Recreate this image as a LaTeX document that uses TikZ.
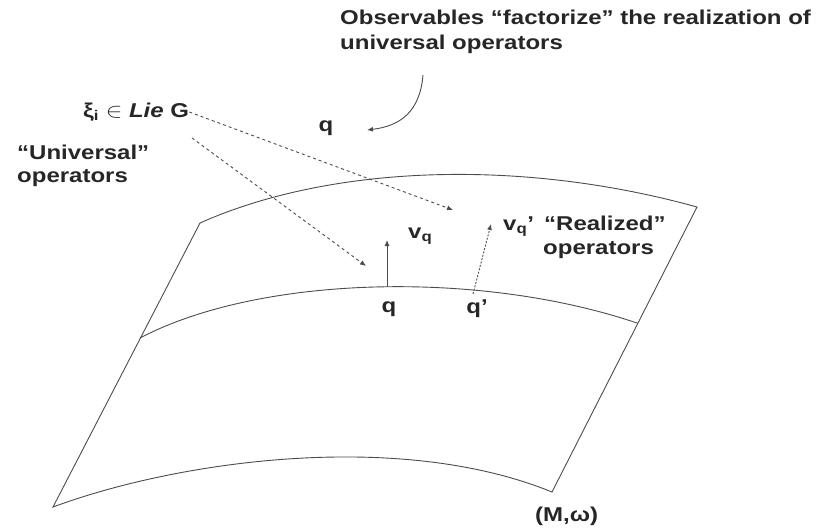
\documentclass[tikz,border=0pt]{standalone}
\usepackage{fontspec}
\usepackage{graphicx}
\setmainfont{Liberation Sans}
\usetikzlibrary{arrows.meta}
\newcommand{\wide}[1]{\scalebox{1.2}[1]{#1}}
\begin{document}
\begin{tikzpicture}[x=1pt,y=-1pt,
  surf/.style={draw=black!70, line width=0.9pt},
  dasharrow/.style={draw=black!70, line width=0.9pt, dash pattern=on 3pt off 3pt, -{Latex[length=6pt,width=5pt]}},
  vec/.style={draw=black!70, line width=0.9pt, -{Latex[length=6pt,width=5pt]}},
  lbl/.style={font=\fontsize{20}{24}\selectfont\bfseries, text=black!85, inner sep=0pt}]
\useasboundingbox (0,0) rectangle (824,530);
% surface
\coordinate (tl) at (200,223);
\coordinate (tr) at (697,207);
\coordinate (br) at (552,492);
\coordinate (bl) at (53,507);
\coordinate (ml) at (140,338);
\coordinate (mr) at (637,323);
\draw[surf] (tl) .. controls (330,165) and (520,158) .. (tr) -- (br)
  .. controls (400,430) and (180,460) .. (bl) -- cycle;
\draw[surf] (ml) .. controls (260,275) and (480,270) .. (mr);
% points and vectors
\coordinate (q) at (387,287);
\coordinate (qp) at (473,294);
\coordinate (vq) at (387,240);
\coordinate (vqp) at (491,224);
\draw[vec] (q) -- (vq);
\draw[vec, dash pattern=on 2pt off 1.5pt] (qp) -- (vqp);
\node[lbl] (ql) at (389,309) {\wide{q}};
\node[lbl] (qpl) at (477,309) {\wide{q'}};
\node[lbl, anchor=west] (vql) at (408,236) {\wide{v\textsubscript{q}}};
\node[lbl, anchor=west] (vqpl) at (503,227) {\wide{v\textsubscript{q}'}};
\node[lbl, anchor=west] (real) at (544,223) {\wide{``Realized''}};
\node[lbl, anchor=west] (realop) at (543,250) {\wide{operators}};
% Lie algebra
\node[lbl, anchor=west] (xi) at (83,112) {\wide{ξ\textsubscript{i} $\in$ \textit{Lie} G}};
\coordinate (xa) at (192,138);
\coordinate (t1) at (453,210);
\coordinate (t2) at (366,266);
\draw[dasharrow] (xi.east) -- (t1);
\draw[dasharrow] (xa) -- (t2);
\node[lbl, anchor=west] (univ) at (17,152) {\wide{``Universal''}};
\node[lbl, anchor=west] (univop) at (17,178) {\wide{operators}};
% observables
\node[lbl, anchor=west] (obs1) at (340,17) {\wide{Observables ``factorize'' the realization of}};
\node[lbl, anchor=west] (obs2) at (340,44) {\wide{universal operators}};
\node[lbl] (qtop) at (326,128) {\wide{q}};
\coordinate (ctop) at (423,75);
\coordinate (ctip) at (367,130);
\draw[vec] (ctop) .. controls (420,112) and (400,126) .. (ctip);
\node[lbl, anchor=west] (M) at (535,516) {\wide{(M,ω)}};
\end{tikzpicture}
\end{document}
